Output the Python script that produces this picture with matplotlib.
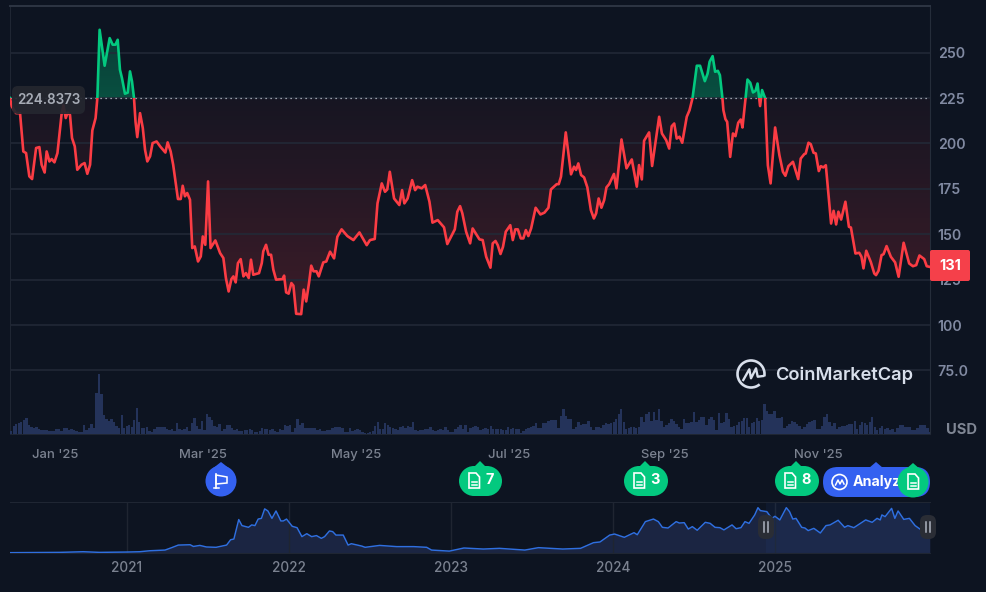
import numpy as np
import pandas as pd
import matplotlib
matplotlib.use("Agg")
import matplotlib.pyplot as plt
from matplotlib.patches import Arc, Circle, FancyBboxPatch, Polygon, Rectangle
from matplotlib.path import Path

plt.rcParams['font.family'] = ['Inter', 'DejaVu Sans']

# price, days since 14 Dec 2024
days = [0, 0.7, 2.4, 4, 5.3, 6.4, 7.7, 8.8, 10.4, 11.7, 12.6, 13.8, 14.6, 15.7, 16.6, 17.7, 18.9, 20.6, 21.3, 22.2,
        23, 23.9, 24.7, 25.8, 26.8, 28.5, 29.7, 30.8, 31.9, 32.8, 34.1, 34.8, 35.7, 37.7, 39.7, 40.9, 42, 42.9, 43.8,
        44.6, 45.8, 46.9, 47.8, 48.6, 49.4, 50, 50.7, 51.8, 52.9, 53.8, 54.7, 55.8, 56.8, 58.4, 59.8, 61.9, 62.8, 64,
        65, 66, 66.9, 68, 68.8, 69.7, 70.6, 71.7, 72.6, 73.6, 74.9, 76, 76.8, 77.8, 78.9, 79.9, 81.8, 83.7, 85, 86,
        87.1, 88.2, 89, 89.9, 90.8, 91.9, 93, 94, 95.1, 96, 96.9, 99.2, 100.3, 100.9, 102, 103, 104, 104.9, 106, 108.6,
        109.2, 110, 111, 112.1, 112.9, 114, 116, 117, 118, 119.1, 120, 120.9, 122.1, 123, 124.8, 126, 127.5,
        129.1, 130.4, 132.1, 134.4, 136.8, 139.2, 142.1, 143.4, 145.3, 146.4, 148.1, 149.4, 150.3, 151.3, 153, 155.1,
        156.2, 157.1, 158.4, 160.2, 161.4, 162.3, 164, 165.4, 167.1, 168.3, 170.4, 172.9, 174.2, 177.2, 178.2, 179.3,
        180.2, 181.7, 183.3, 184.3, 187, 188.3, 189.7, 191.4, 192.3, 193.4, 194.3, 195.4, 196.4, 197.5, 199.3, 200.3,
        201.3, 202.3, 203.5, 204.5, 205.5, 206.5, 207.6, 209.4, 211.3, 212.9, 214.5, 215.5, 217.8, 218.6, 219.5, 221.4,
        223.5, 224.7, 225.5, 226.4, 227.5, 228.7, 230, 231.4, 232.6, 233.5, 234.5, 235.6, 236.7, 237.6, 238.7, 240.6,
        241.6, 243.6, 245.6, 247.7, 249.7, 250.6, 251.7, 252.6, 254.6, 255.8, 258.6, 259.7, 261.4, 262.6, 263.6, 264.6,
        265.6, 266.7, 267.8, 269.6, 270.7, 271.9, 273.6, 274.9, 276.8, 277.9, 278.7, 279.9, 280.9, 282, 282.8, 283.8,
        284.2, 285, 285.7, 286.9, 288, 289, 290.1, 291.1, 291.8, 293, 293.8, 294.9, 296, 297, 297.8, 298.8, 299.6,
        300.8, 301.2, 301.9, 303, 304.8, 306.5, 307.9, 308.9, 310.1, 311.9, 314, 315, 316.4, 317, 318.1, 319, 320.1,
        321, 322.2, 323, 324, 325, 326.5, 327.1, 328.1, 329.1, 330, 331.1, 332.8, 334.2, 335, 336.8, 338.3, 339.2, 340,
        341.1, 342.9, 344.3, 345, 346, 347.2, 348, 349.2, 350.9, 352.6, 354, 356, 358.2, 359.7, 361, 362.3, 364.2,
        365.2, 366.5]
prices = [225, 220.4, 216.7, 216.7, 195.6, 194.7, 181.9, 180.4, 197.5, 198, 188.3, 184, 195.6, 190.1, 191.4, 189.6,
          194.7, 216.7, 221, 214, 217, 215.8, 203, 198.4, 185.5, 188.3, 189.2, 183.3, 188.3, 207.2, 214, 225, 262.6,
          242.8, 258, 254.4, 254.4, 257.1, 240.6, 236, 227.4, 228, 239.7, 234.2, 225, 212, 203.5, 216.7, 208.5, 196.5,
          190.1, 192.9, 200.2, 201.1, 198.4, 195, 200.6, 195.6, 188.3, 178.2, 169.4, 169.4, 176.7, 170.9, 172.7, 169,
          142.4, 143.3, 135, 137.8, 148.8, 144.2, 179.1, 142.4, 146.6, 139.6, 136.9, 125.9, 118.5, 125.3, 126.8, 123.5,
          134.1, 136.3, 126.8, 128.6, 125.9, 136, 127.7, 128.6, 134.1, 140.6, 144.2, 138.7, 138.7, 130.5, 125, 125.3,
          127.2, 118, 117.3, 123.1, 121.7, 106.2, 106, 119.5, 113, 123, 132.7, 129.6, 129.6, 126.8, 134.5, 135, 140.4,
          136.7, 148.6, 152.7, 149, 146.8, 151, 144, 146.8, 147.4, 167, 178, 173.4, 174.7, 184.4, 169.7, 166.1, 174.3,
          167, 169.7, 179.8, 174.3, 176.2, 175.3, 177.1, 167.9, 156.4, 157.8, 153.8, 144.6, 152.7, 162.4, 165.5, 161.5,
          151.4, 145, 153.2, 147.2, 146.8, 137.6, 131.6, 145, 146.3, 144, 139.1, 143.1, 151.4, 155, 146.8, 152.7, 152.7,
          147.7, 147.7, 152.3, 149, 153.2, 164.6, 160.9, 161.9, 164.6, 174.7, 177.6, 177.6, 181.7, 206.1, 183, 187.2,
          185.4, 189, 182.6, 181.3, 175.8, 163.3, 158.7, 161.5, 169.7, 164.6, 168.8, 175.8, 177.6, 183.2, 175.3, 202.2,
          186.3, 191.2, 176.2, 188.1, 180.2, 201.5, 206.1, 187.6, 214.7, 205.5, 201.8, 197.2, 209.5, 211, 202.7, 203.7,
          200.4, 214.7, 218.3, 225, 242.8, 242.8, 234.3, 238.5, 245, 248.1, 239.5, 240, 237.6, 225, 218.3, 213.4, 211.9,
          192.6, 205.5, 204, 211.4, 213.2, 208.8, 225, 235.2, 233.4, 228.1, 229, 233, 220.6, 229.4, 225, 211, 188, 178,
          208.8, 193.6, 184.4, 182.2, 187.5, 189.9, 180.4, 191.7, 194.1, 194.5, 200.4, 199.6, 194.9, 194.5, 184.8,
          187.5, 186.8, 188, 165.1, 155.9, 162.9, 155.4, 162.4, 158.1, 167.9, 154.1, 153.7, 139.4, 139.8, 137.6, 131.2,
          140.9, 134.8, 128.4, 127.5, 129.9, 138.5, 139, 143.5, 137.6, 134.5, 126.6, 145.3, 133.9, 132.4, 133, 138.3,
          136.3, 132.4, 132]
base_price = 224.8373

# daily volume bars, one per day, in pixel-ish units
volumes = [3, 8, 10, 11, 12, 14, 16, 9, 7, 6, 7, 5, 4, 4, 4, 3, 3, 3, 5, 5, 3, 6, 6, 4,
           5, 4, 3, 2, 2, 9, 4, 6, 10, 6, 41, 60, 40, 19, 15, 13, 15, 12, 8, 6, 19, 6, 8, 9, 7,
           14, 26, 12, 6, 6, 7, 3, 2, 5, 7, 7, 7, 7, 5, 4, 5, 3, 11, 5, 4, 5, 7, 3, 11, 16, 8, 5,
           13, 4, 20, 17, 14, 8, 7, 10, 3, 5, 9, 9, 6, 4, 5, 3, 3, 4, 4, 5, 4, 2, 2, 3, 6, 5, 5, 4,
           5, 3, 2, 5, 4, 9, 8, 9, 2, 6, 15, 9, 11, 6, 6, 6, 6, 6, 4,
           5, 3, 3, 4, 4, 6, 7, 7, 7, 6, 2, 2, 6, 3, 4, 5, 4, 2, 1, 1, 2, 3, 8, 12, 5, 5, 11, 9, 7,
           6, 5, 4, 7, 8, 6, 8, 7, 12, 4, 3, 4, 4, 5, 5, 7, 4, 3, 4, 5, 4, 7, 4, 2, 2, 5, 7, 9, 5,
           9, 2, 6, 7, 8, 7, 4, 5, 6, 5, 8, 5, 5, 5, 5, 4, 4, 7, 5, 6, 5, 5, 1, 3, 5, 6, 7, 8, 11,
           6, 6, 11, 11, 13, 14, 14, 14, 6, 18, 25, 18, 15, 15, 5, 7, 12, 9, 10, 10, 13, 7, 4, 7, 7,
           6, 9, 11, 10, 11, 12, 15, 20, 25, 12, 5, 6,
           7, 7, 6, 7, 17, 12, 20, 22, 13, 22, 14, 25, 13, 7, 9, 11, 15, 13, 10, 7, 5, 15, 11, 11,
           12, 22, 12, 14, 17, 17, 9, 15, 17, 14, 4, 21, 11, 12, 21, 15, 7, 8, 9, 12, 13, 16, 16, 7,
           11, 12, 16, 13, 14, 30, 23, 20, 20, 23, 16, 16, 17, 6, 8, 10, 13, 12, 10, 8, 5, 7, 10, 12,
           13, 14, 5, 5, 8, 17, 20, 12, 8, 11, 5, 7, 8, 8, 9, 10, 10, 13, 5, 9, 12, 11, 9, 12, 17, 7,
           4, 6, 8, 5, 6, 4, 5, 2, 6, 9, 9, 7, 7, 7, 4, 4, 6, 9, 9, 9, 6, 2]

y_ticks = [75, 100, 125, 150, 175, 200, 225, 250]
y_labels = ['75.0', '100', '125', '150', '175', '200', '225', '250']
month_labels = ["Jan '25", "Mar '25", "May '25", "Jul '25", "Sep '25", "Nov '25"]
month_dates = ['2025-01-01', '2025-03-01', '2025-05-01', '2025-07-01', '2025-09-01', '2025-11-01']

# all-time overview strip
mini_years = [2020.278, 2020.586, 2020.73, 2020.83, 2021, 2021.08, 2021.14, 2021.235, 2021.276, 2021.317, 2021.39,
              2021.41, 2021.45, 2021.49, 2021.55, 2021.615, 2021.64, 2021.66, 2021.69, 2021.71, 2021.75, 2021.77,
              2021.79, 2021.81, 2021.83, 2021.85, 2021.87, 2021.895, 2021.92, 2021.95, 2021.965, 2021.985, 2022.02,
              2022.05, 2022.08, 2022.11, 2022.14, 2022.17, 2022.2, 2022.22, 2022.25, 2022.27, 2022.29, 2022.335,
              2022.365, 2022.385, 2022.45, 2022.47, 2022.56, 2022.665, 2022.77, 2022.85, 2022.88, 2022.99, 2023.08,
              2023.2, 2023.3, 2023.456, 2023.54, 2023.69, 2023.8, 2023.88, 2023.92, 2023.98, 2024.01, 2024.07, 2024.13,
              2024.15, 2024.2, 2024.25, 2024.28, 2024.305, 2024.34, 2024.39, 2024.41, 2024.44, 2024.465, 2024.49,
              2024.52, 2024.57, 2024.6, 2024.63, 2024.66, 2024.685, 2024.735, 2024.76, 2024.79, 2024.815, 2024.84,
              2024.875, 2024.895, 2024.91, 2024.95, 2024.98, 2025.0, 2025.03, 2025.07, 2025.09, 2025.11, 2025.13,
              2025.165, 2025.185, 2025.205, 2025.24, 2025.28, 2025.315, 2025.34, 2025.39, 2025.43, 2025.45, 2025.487,
              2025.56, 2025.6, 2025.63, 2025.65, 2025.66, 2025.68, 2025.72, 2025.74, 2025.76, 2025.795, 2025.83,
              2025.865, 2025.895, 2025.956]
mini_prices = [2, 3.7, 7.5, 3.7, 5.6, 7.5, 13, 17, 31, 46, 48, 38, 44, 35, 33, 46, 77, 81, 194, 159, 149, 163, 159, 197,
               201, 256, 244, 201, 244, 186, 186, 197, 155, 147, 95, 112, 95, 101, 85, 95, 128, 124, 104, 104, 46, 54,
               40, 33, 44, 37, 37, 33, 17, 11, 29, 23, 27, 17, 31, 23, 27, 60, 64, 104, 110, 91, 118, 106, 182, 197,
               182, 149, 145, 182, 174, 176, 139, 153, 132, 178, 172, 149, 147, 134, 163, 141, 147, 182, 172, 221, 263,
               246, 240, 201, 213, 192, 263, 240, 197, 201, 149, 145, 130, 143, 116, 159, 163, 190, 149, 159, 147, 192,
               178, 201, 192, 221, 211, 259, 201, 244, 195, 201, 159, 139, 128]
year_ticks = [2021, 2022, 2023, 2024, 2025]
year_labels = ['2021', '2022', '2023', '2024', '2025']

BG = '#0d1421'
GRID = '#222a38'
RED = '#fb3c44'
GREEN = '#03c97f'
BLUE = '#3461f0'
LABEL = '#818aa2'
W, H = 987, 592


def px_axes(fig, left, top, right, bottom):
    ax = fig.add_axes([left / W, 1 - bottom / H, (right - left) / W, (bottom - top) / H])
    ax.set_facecolor('none')
    return ax


def gradient_fill(ax, x, y, rgb, a_top, a_bottom, low, high, where):
    # fill between line and base price, tinted with a vertical alpha ramp
    poly = ax.fill_between(x, y, base_price, where=where, interpolate=True, alpha=0)
    path = Path.make_compound_path(*poly.get_paths())
    img = np.zeros((256, 2, 4))
    img[:, :, 0], img[:, :, 1], img[:, :, 2] = rgb
    img[:, :, 3] = np.linspace(a_top, a_bottom, 256)[:, None]
    im = ax.imshow(img, extent=(x[0], x[-1], low, high), aspect='auto', origin='upper', zorder=1)
    im.set_clip_path(path, transform=ax.transData)


def doc_icon(ax, cx, cy, color='white'):
    outline = [(cx - 5, cy - 8), (cx + 2, cy - 8), (cx + 5.5, cy - 4), (cx + 5.5, cy + 7), (cx - 5, cy + 7)]
    ax.add_patch(Polygon(outline, closed=True, fill=False, ec=color, lw=1.2, zorder=8))
    ax.plot([cx - 2.5, cx + 3], [cy + 0.5, cy + 0.5], color=color, lw=1.1, zorder=8)
    ax.plot([cx - 2.5, cx + 3], [cy + 3.5, cy + 3.5], color=color, lw=1.1, zorder=8)


def green_pill(ax, left, right, tip, label):
    ax.add_patch(Circle((left + 15, 481), 15, fc=GREEN, ec='none', zorder=6))
    ax.add_patch(Circle((right - 15, 481), 15, fc=GREEN, ec='none', zorder=6))
    ax.add_patch(Rectangle((left + 15, 466), right - left - 30, 30, fc=GREEN, ec='none', zorder=6))
    ax.add_patch(Polygon([(tip - 7, 468), (tip, 461), (tip + 7, 468)], fc=GREEN, ec='none', zorder=6))
    doc_icon(ax, left + 15, 481)
    ax.text(left + 31, 480.5, label, color='white', fontsize=10.5, fontweight='bold', ha='center', va='center', zorder=8)


fig = plt.figure(figsize=(W / 100, H / 100), dpi=100, facecolor=BG)

# main price panel
x = np.array(days)
y = np.array(prices)
start = pd.Timestamp('2024-12-14')
x_end = 366.5
y_top = 275.7
y_bottom = 40.0

ax = px_axes(fig, 10, 6, 930, 434)
gradient_fill(ax, x, y, (0.92, 0.22, 0.26), 0.045, 0.22, 105, base_price, y < base_price)
gradient_fill(ax, x, y, (0.0, 0.78, 0.5), 0.22, 0.34, base_price, 263, y > base_price)
low_line, = ax.plot(x, y, color=RED, lw=1.9, zorder=4, solid_joinstyle='round')
high_line, = ax.plot(x, y, color=GREEN, lw=1.9, zorder=4, solid_joinstyle='round')
low_line.set_clip_path(Rectangle((0, y_bottom), x_end, base_price - y_bottom, transform=ax.transData))
high_line.set_clip_path(Rectangle((0, base_price), x_end, y_top - base_price, transform=ax.transData))
ax.axhline(base_price, color='#c5c9d2', lw=0.9, ls=(0, (1, 3)), zorder=3)
ax.set_xlim(0, x_end)
ax.set_ylim(y_bottom, y_top)
ax.yaxis.tick_right()
ax.set_yticks(y_ticks, y_labels)
ax.set_xticks([(pd.Timestamp(d) - start).days for d in month_dates], month_labels)
ax.tick_params(axis='y', length=0, pad=5.5, labelsize=10.2, labelcolor=LABEL)
ax.tick_params(axis='x', length=0, pad=11, labelsize=9.4, labelcolor='#7b8290')
for lab in ax.get_yticklabels():
    lab.set_fontweight('semibold')
for lab in ax.get_xticklabels():
    lab.set_fontweight('medium')
ax.grid(axis='y', color=GRID, lw=1.1, zorder=0)
ax.spines['top'].set_color('#2d3543')
ax.spines['top'].set_linewidth(1.4)
ax.spines['right'].set_color('#252d3a')
ax.spines['left'].set_color('#1f2633')
ax.spines['left'].set_linestyle((0, (1, 1)))
ax.spines['bottom'].set_color('#1f2633')
ax.spines['bottom'].set_linestyle((0, (1, 1)))

# volume bars share the panel, on their own scale
vol_ax = px_axes(fig, 10, 6, 930, 434)
vol_ax.bar(np.arange(len(volumes)) + 0.5, volumes, width=0.95, color='#24335a')
vol_ax.set_xlim(0, x_end)
vol_ax.set_ylim(0, 428)
vol_ax.axis('off')

# overview strip
mini_x = np.array(mini_years)
mini_y = np.array(mini_prices)
mini = px_axes(fig, 10, 502, 930, 553)
mini.fill_between(mini_x, mini_y, 0, color='#1b2542', lw=0, zorder=1)
mini.axvspan(2024.944, 2025.956, color='#2a55b0', alpha=0.09, lw=0, zorder=2)
mini.plot(mini_x, mini_y, color='#2f6fe0', lw=1.05, zorder=3)
mini.set_xlim(2020.278, 2025.957)
mini.set_ylim(0, 296)
mini.set_yticks([])
mini.set_xticks(year_ticks, year_labels)
mini.tick_params(axis='x', length=0, pad=5.5, labelsize=9.8, labelcolor='#7b8290')
for lab in mini.get_xticklabels():
    lab.set_fontweight('medium')
mini.grid(axis='x', color='#1f2531', lw=1, zorder=0)
for side in ['left', 'right']:
    mini.spines[side].set_visible(False)
mini.spines['top'].set_color('#1f2633')
mini.spines['top'].set_linestyle((0, (1, 1)))
mini.spines['bottom'].set_color('#1f2633')
mini.spines['bottom'].set_linestyle((0, (1, 1)))

# overlay in pixel coordinates for the tags, badges and logo
top = fig.add_axes([0, 0, 1, 1])
top.set_xlim(0, W)
top.set_ylim(H, 0)
top.axis('off')
top.patch.set_alpha(0)

top.add_patch(FancyBboxPatch((12, 86), 73, 28, boxstyle='round,pad=0,rounding_size=6', fc='#24272f', ec='none',
                             alpha=0.93, zorder=5))
top.text(49, 100, '224.8373', color='#a6abb5', fontsize=9.7, fontweight='semibold', ha='center', va='center', zorder=6)

top.add_patch(FancyBboxPatch((930, 250), 40, 31, boxstyle='round,pad=0,rounding_size=2', fc='#f5404a', ec='none', zorder=5))
top.text(950, 266.5, '131', color='white', fontsize=10.5, fontweight='bold', ha='center', va='center', zorder=6)
top.text(961.5, 429.5, 'USD', color='#7f8694', fontsize=10.6, fontweight='bold', ha='center', va='center')

# CoinMarketCap mark
top.add_patch(Arc((751, 374), 27, 27, theta1=50, theta2=370, ec='#d8dfeb', lw=1.9, zorder=6))
top.plot([743.3, 749.3, 751, 756, 757.7, 763.3], [380, 369.3, 378.3, 368.3, 376.7, 376], color='#d8dfeb', lw=1.7,
         zorder=6, solid_joinstyle='round')
top.text(775, 375.5, 'CoinMarketCap', color='#d8dfeb', fontsize=13.2, fontweight='semibold', ha='left', va='center', zorder=6)

# event badges
top.add_patch(Circle((221, 481), 15.5, fc=BLUE, ec='none', zorder=6))
top.add_patch(Polygon([(212, 469), (221, 462), (230, 469)], fc=BLUE, ec='none', zorder=6))
top.plot([216, 216], [474, 488], color='white', lw=1.2, zorder=8)
top.add_patch(Polygon([(216, 475), (227, 477), (227, 483), (216, 484)], fill=False, ec='white', lw=1.1, zorder=8))
top.plot([214, 219], [488, 488], color='white', lw=1.1, zorder=8)

green_pill(top, 459, 502, 480, '7')
green_pill(top, 624, 668, 645, '3')
green_pill(top, 775, 819, 796, '8')

top.add_patch(FancyBboxPatch((823, 467), 107, 30, boxstyle='round,pad=0,rounding_size=15', fc=BLUE, ec='none', zorder=5))
top.add_patch(Polygon([(869, 468), (876, 462), (883, 468)], fc=BLUE, ec='none', zorder=5))
top.add_patch(Circle((839.5, 482), 7.5, fill=False, ec='white', lw=1.2, zorder=6))
top.plot([835.5, 838, 840, 842, 844], [485, 480, 484, 480, 484], color='white', lw=1.1, zorder=6)
top.text(853, 482, 'Analyze', color='white', fontsize=10.2, fontweight='bold', ha='left', va='center', zorder=6)
top.add_patch(Circle((913, 482), 15.5, fc=GREEN, ec='none', zorder=7))
top.add_patch(Polygon([(905, 470), (913, 463), (921, 470)], fc=GREEN, ec='none', zorder=7))
doc_icon(top, 913, 482)

# range handles on the overview strip
for cx in [766, 928]:
    top.add_patch(FancyBboxPatch((cx - 8, 515), 16, 24, boxstyle='round,pad=0,rounding_size=7', fc='#2a2d35', ec='none', zorder=6))
    top.plot([cx - 2, cx - 2], [522, 532], color='#aeb4c0', lw=1.1, zorder=7)
    top.plot([cx + 2, cx + 2], [522, 532], color='#aeb4c0', lw=1.1, zorder=7)

fig.savefig('out.png', dpi=100, facecolor=BG)
